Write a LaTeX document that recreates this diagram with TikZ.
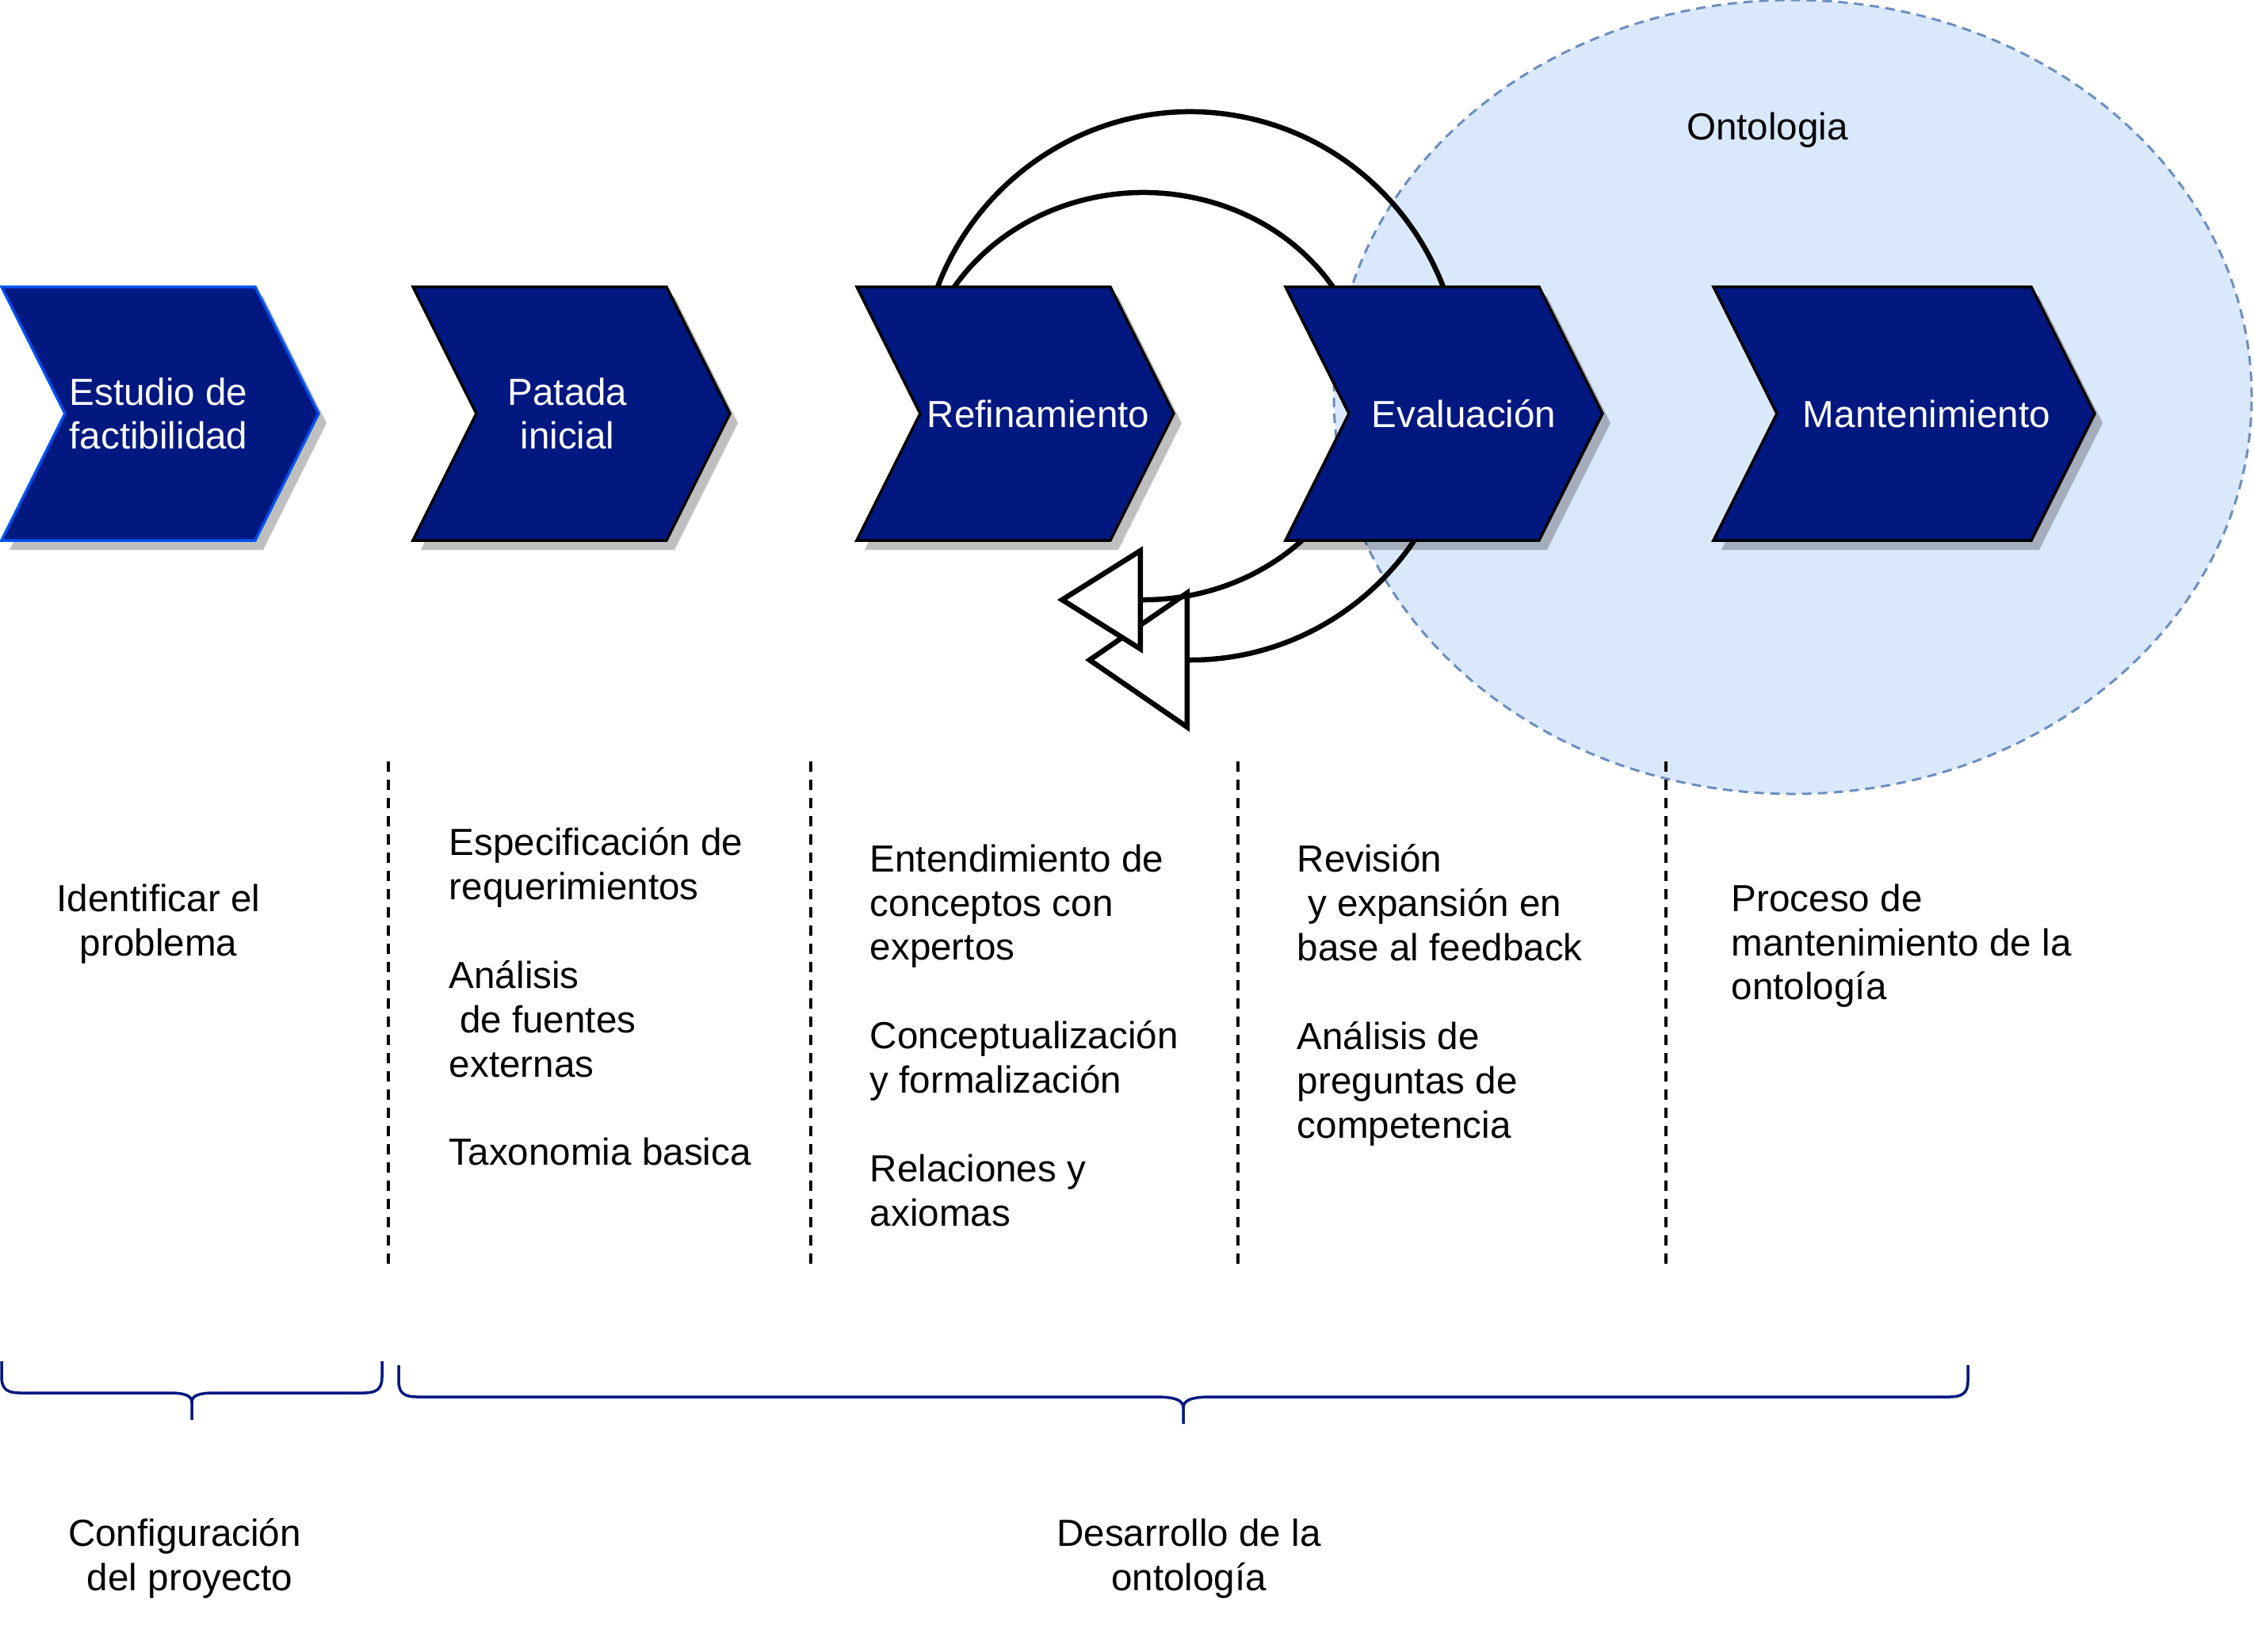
\documentclass[tikz,border=0pt]{standalone}
\usepackage{fontspec}
\setmainfont{Liberation Sans}
\usepackage{tikz}
\usepackage{color}
\usetikzlibrary{arrows.meta, shadows}

\definecolor{stepblue}{RGB}{0,24,128}
\definecolor{edgeblue}{RGB}{0,80,239}
\definecolor{ontofill}{HTML}{DAE8FC}
\definecolor{ontoline}{HTML}{6C8EBF}

\begin{document}
\begin{tikzpicture}[
  chev/.style={fill=stepblue, draw=black, line width=0.35mm, line join=miter,
    drop shadow={shadow xshift=1mm, shadow yshift=-1.2mm, fill=black, opacity=0.25}},
  chevtext/.style={text=white, font=\fontsize{13.55}{15.9}\selectfont, align=center, inner sep=0pt},
  coltext/.style={font=\fontsize{13.55}{15.9}\selectfont, align=left, anchor=north west, inner sep=0pt},
  divider/.style={black, line width=0.38mm, dash pattern=on 1.3mm off 1mm},
  cyclearc/.style={black, line width=0.65mm},
  bracket/.style={draw=stepblue, line width=0.35mm}
]
\useasboundingbox (0,0) rectangle (28.44,-20.84);

\draw[ontoline, fill=ontofill, line width=0.3mm, dash pattern=on 1.2mm off 0.8mm] (22.62,-5.01) ellipse [x radius=5.79, y radius=5.01];
\node[coltext, anchor=center] (onto) at (22.30,-1.64) {Ontologia};

% loops between Refinamiento and Evaluacion
\coordinate (outerc) at (15.02,-4.87);
\coordinate (innerc) at (14.43,-5.00);
\draw[cyclearc, -{Triangle[fill=white, length=13.2mm, width=18.0mm]}] (outerc) ++(170:3.42 and 3.46) arc [start angle=170, end angle=-90, x radius=3.42, y radius=3.46] -- ++(-1.33,0);
\draw[cyclearc, -{Triangle[fill=white, length=10.8mm, width=13.4mm]}] (innerc) ++(165:2.83 and 2.57) arc [start angle=165, end angle=-90, x radius=2.83, y radius=2.57] -- ++(-1.09,0);

\draw[chev, draw=edgeblue] (0.02,-3.62) -- ++(3.2,0) -- ++(0.8,-1.6) -- ++(-0.8,-1.6) -- ++(-3.2,0) -- ++(0.8,1.6) -- cycle;
\draw[chev] (5.21,-3.62) -- ++(3.2,0) -- ++(0.8,-1.6) -- ++(-0.8,-1.6) -- ++(-3.2,0) -- ++(0.8,1.6) -- cycle;
\draw[chev] (10.81,-3.62) -- ++(3.2,0) -- ++(0.8,-1.6) -- ++(-0.8,-1.6) -- ++(-3.2,0) -- ++(0.8,1.6) -- cycle;
\draw[chev] (16.22,-3.62) -- ++(3.2,0) -- ++(0.8,-1.6) -- ++(-0.8,-1.6) -- ++(-3.2,0) -- ++(0.8,1.6) -- cycle;
\draw[chev] (21.62,-3.62) -- ++(4.01,0) -- ++(0.8,-1.6) -- ++(-0.8,-1.6) -- ++(-4.01,0) -- ++(0.8,1.6) -- cycle;

\node[chevtext] (estudio) at (2.00,-5.22) {Estudio de\\factibilidad};
\node[chevtext] (patada) at (7.16,-5.22) {Patada\\inicial};
\node[chevtext] (refin) at (13.10,-5.22) {Refinamiento};
\node[chevtext] (evalu) at (18.47,-5.22) {Evaluación};
\node[chevtext] (mante) at (24.31,-5.22) {Mantenimiento};

\draw[divider] (4.90,-9.61) -- (4.90,-15.96);
\draw[divider] (10.23,-9.61) -- (10.23,-15.96);
\draw[divider] (15.62,-9.61) -- (15.62,-15.96);
\draw[divider] (21.02,-9.61) -- (21.02,-15.96);

\node[coltext, anchor=north, align=center] (ident) at (2.00,-11.15) {Identificar el\\problema};
\node[coltext] (espec) at (5.66,-10.44) {Especificación de\\requerimientos\\[15.9pt]Análisis\\\hspace*{0.28em}de fuentes\\externas\\[15.9pt]Taxonomia basica};
\node[coltext] (enten) at (10.97,-10.65) {Entendimiento de\\conceptos con\\expertos\\[15.9pt]Conceptualización\\y formalización\\[15.9pt]Relaciones y\\axiomas};
\node[coltext] (revis) at (16.36,-10.65) {Revisión\\\hspace*{0.28em}y expansión en\\base al feedback\\[15.9pt]Análisis de\\preguntas de\\competencia};
\node[coltext] (proce) at (21.84,-11.15) {Proceso de\\mantenimiento de la\\ontología};

\draw[bracket] (0.02,-17.18) -- (0.02,-17.38) .. controls (0.02,-17.54) and (0.10,-17.58) .. (0.26,-17.58) -- (2.13,-17.58) .. controls (2.35,-17.58) and (2.42,-17.62) .. (2.42,-17.70) -- (2.42,-17.92);
\draw[bracket] (4.82,-17.18) -- (4.82,-17.38) .. controls (4.82,-17.54) and (4.74,-17.58) .. (4.58,-17.58) -- (2.71,-17.58) .. controls (2.49,-17.58) and (2.42,-17.62) .. (2.42,-17.70);

\draw[bracket] (5.03,-17.23) -- (5.03,-17.43) .. controls (5.03,-17.59) and (5.11,-17.63) .. (5.27,-17.63) -- (14.57,-17.63) .. controls (14.83,-17.63) and (14.93,-17.67) .. (14.93,-17.77) -- (14.93,-17.97);
\draw[bracket] (24.83,-17.23) -- (24.83,-17.43) .. controls (24.83,-17.59) and (24.75,-17.63) .. (24.59,-17.63) -- (15.29,-17.63) .. controls (15.03,-17.63) and (14.93,-17.67) .. (14.93,-17.77);

\node[coltext, anchor=north, align=center] (config) at (2.33,-19.16) {Configuración\\\hspace*{0.28em}del proyecto};
\node[coltext, anchor=north, align=center] (desarr) at (15.00,-19.16) {Desarrollo de la\\ontología};

\end{tikzpicture}
\end{document}
